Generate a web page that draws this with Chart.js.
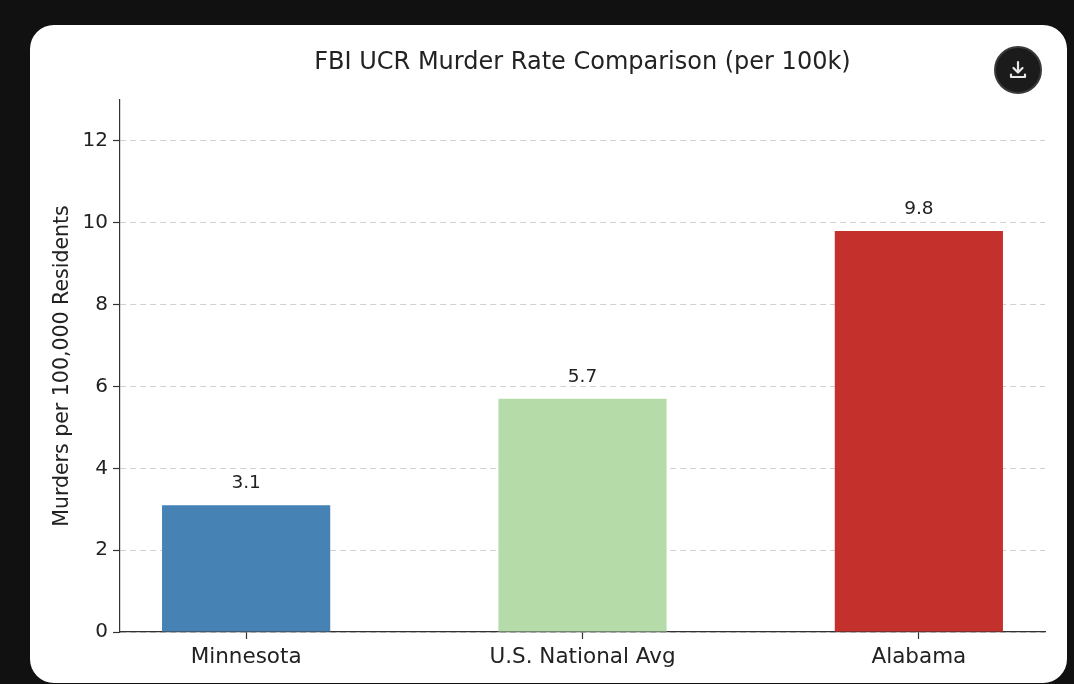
<!DOCTYPE html>
<html>
<head>
<meta charset="utf-8">
<script src="https://cdn.jsdelivr.net/npm/chart.js@4"></script>
<style>
  html, body { margin: 0; padding: 0; background: #111111; width: 1074px; height: 684px; overflow: hidden; }
  #card { position: absolute; left: 30px; top: 25px; width: 1037px; height: 658px; background: #ffffff; border-radius: 24px; overflow: hidden; }
  #grafico { position: absolute; left: 0; top: 0; }
  #dl { position: absolute; left: 994px; top: 46px; width: 44px; height: 44px; border-radius: 50%; background: #1b1b1b; border: 2px solid #3a3a3a; }
  #dl svg { position: absolute; left: 10px; top: 10px; }
</style>
</head>
<body>
<div id="card">
  <canvas id="grafico" width="1037" height="658"></canvas>
</div>
<div id="dl">
  <svg width="24" height="24" viewBox="0 0 24 24" fill="none" stroke="#e8e8e8" stroke-width="2.2" stroke-linecap="round" stroke-linejoin="round">
    <path d="M12 4v10"/><path d="M7.5 10l4.5 4.5 4.5-4.5"/><path d="M5 16.5v2.5h14v-2.5"/>
  </svg>
</div>
<script>
const categorias = ['Minnesota', 'U.S. National Avg', 'Alabama']
const taxas = [3.1, 5.7, 9.8]
const cores = ['#4682b4', '#b5dba8', '#c4302b']
const yTicks = [0, 2, 4, 6, 8, 10, 12]
const titulo = 'FBI UCR Murder Rate Comparison (per 100k)'

const fonte = '"DejaVu Sans", "Noto Sans", sans-serif'

// rotulos em cima das barras + titulo centrado na area do grafico
const rotulos = {
    id: 'rotulos',
    afterDatasetsDraw(chart) {
        const ctx = chart.ctx
        const meta = chart.getDatasetMeta(0)
        ctx.save()
        ctx.fillStyle = '#222'
        ctx.font = '18.5px ' + fonte
        ctx.textAlign = 'center'
        ctx.textBaseline = 'middle'
        meta.data.forEach((bar, i) => {
            ctx.fillText(taxas[i].toFixed(1), bar.x, bar.y - 22)
        })
        const a = chart.chartArea
        ctx.font = '24px ' + fonte
        ctx.fillText(titulo, (a.left + a.right) / 2, 38)
        ctx.restore()
    }
}

const ctx = document.getElementById('grafico')

new Chart(ctx, {
    type: 'bar',
    data: {
        datasets: [{
            data: taxas.map((v, i) => ({ x: i, y: v })),
            backgroundColor: cores,
            borderWidth: 0,
            barPercentage: 0.5,
            categoryPercentage: 1.0
        }]
    },
    plugins: [rotulos],
    options: {
        responsive: false,
        animation: false,
        layout: { padding: { top: 75, right: 22, left: 0, bottom: 0 } },
        plugins: {
            legend: { display: false },
            tooltip: { enabled: false }
        },
        scales: {
            x: {
                type: 'linear',
                offset: false,
                min: -0.375,
                max: 2.375,
                afterBuildTicks: s => { s.ticks = categorias.map((c, i) => ({ value: i })) },
                afterFit: s => { s.height = 51 },
                ticks: {
                    callback: v => categorias[v],
                    color: '#222',
                    font: { family: fonte, size: 21.5 },
                    padding: 6,
                    maxRotation: 0
                },
                grid: { offset: false, drawOnChartArea: false, drawTicks: true, tickLength: 7, tickColor: '#333', tickWidth: 1.2 },
                border: { color: '#333', width: 1.2 }
            },
            y: {
                min: 0,
                max: 13,
                z: 1,
                afterBuildTicks: s => { s.ticks = yTicks.map(v => ({ value: v })) },
                afterFit: s => { s.width = 90 },
                ticks: {
                    color: '#222',
                    font: { family: fonte, size: 20 },
                    padding: 5
                },
                grid: {
                    color: 'rgba(170,170,170,0.55)',
                    lineWidth: 1,
                    tickLength: 7,
                    tickColor: '#333',
                    tickWidth: 1.2,
                    tickBorderDash: []
                },
                border: { color: '#333', width: 1.2, dash: [6, 4] },
                title: {
                    display: true,
                    text: 'Murders per 100,000 Residents',
                    color: '#222',
                    font: { family: fonte, size: 20.5 },
                    padding: { top: 20, bottom: 0 }
                }
            }
        }
    }
})
</script>
</body>
</html>
